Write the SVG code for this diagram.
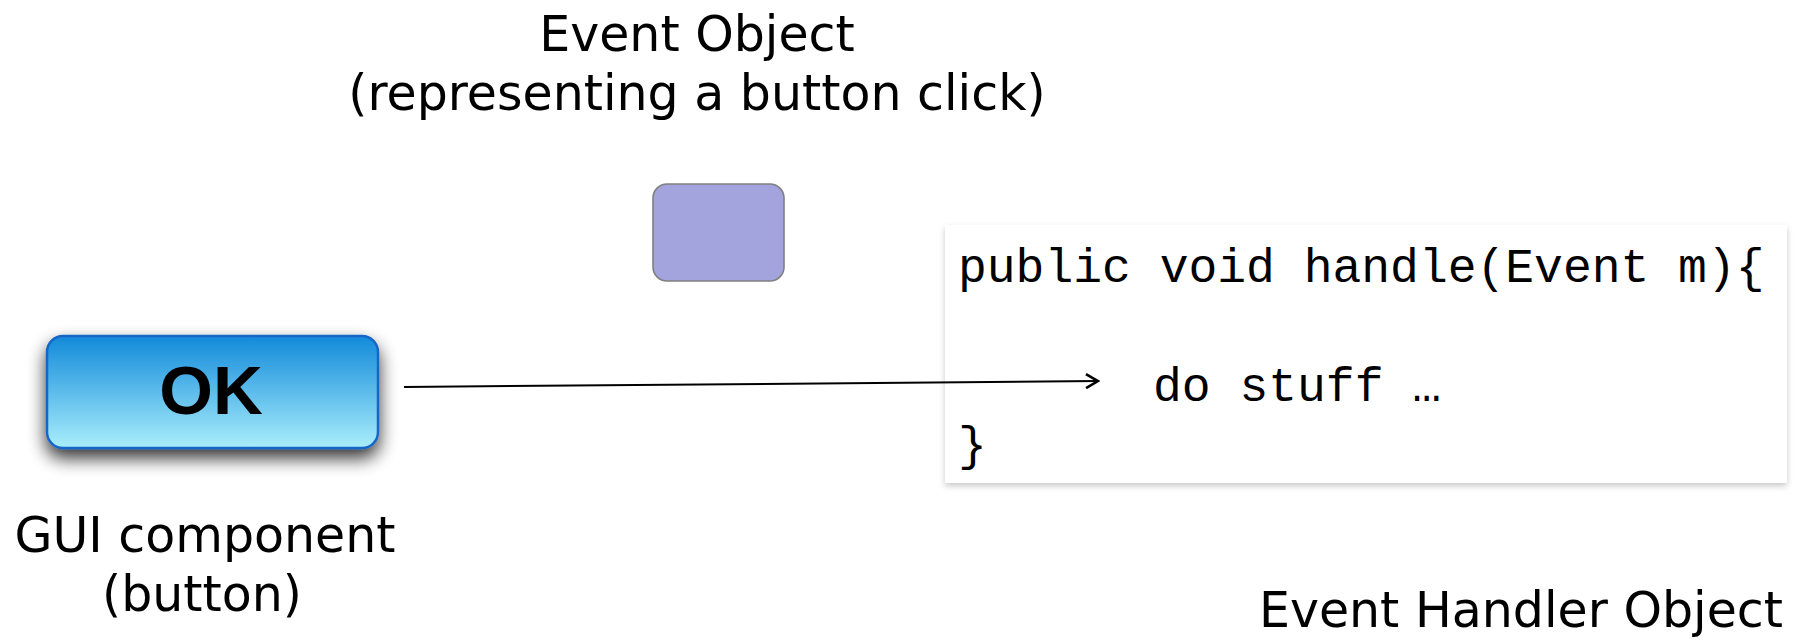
<svg xmlns="http://www.w3.org/2000/svg" width="1796" height="640" viewBox="0 0 1796 640">
  <style>
    .label { font-family: "DejaVu Sans", Verdana, sans-serif; font-size: 49px; fill: #000; }
    .code { font-family: "Liberation Mono", "Courier New", monospace; font-size: 48px; fill: #000; }
    .ok { font-family: "Liberation Sans", Arial, sans-serif; font-weight: bold; font-size: 69px; fill: #000; }
    .flow { stroke: #000; stroke-width: 2; fill: none; }
  </style>
  <defs>
    <linearGradient id="btnFill" x1="0" y1="0" x2="0" y2="1">
      <stop offset="0" stop-color="#128ad9"/>
      <stop offset="0.45" stop-color="#55b7ea"/>
      <stop offset="1" stop-color="#aaeefa"/>
    </linearGradient>
    <filter id="btnShadow" x="-20%" y="-30%" width="140%" height="180%">
      <feGaussianBlur in="SourceAlpha" stdDeviation="9"/>
      <feOffset dy="9" result="blur"/>
      <feComponentTransfer><feFuncA type="linear" slope="0.8"/></feComponentTransfer>
      <feMerge><feMergeNode/><feMergeNode in="SourceGraphic"/></feMerge>
    </filter>
    <filter id="boxShadow" x="-5%" y="-10%" width="110%" height="125%">
      <feGaussianBlur in="SourceAlpha" stdDeviation="3"/>
      <feOffset dy="3"/>
      <feComponentTransfer><feFuncA type="linear" slope="0.22"/></feComponentTransfer>
      <feMerge><feMergeNode/><feMergeNode in="SourceGraphic"/></feMerge>
    </filter>
    <marker id="openArrow" viewBox="0 0 16 16" refX="14" refY="8" markerWidth="16" markerHeight="16" markerUnits="userSpaceOnUse" orient="auto">
      <path d="M2,1 L14,8 L2,15" fill="none" stroke="#000" stroke-width="2.6"/>
    </marker>
  </defs>

  <!-- event object label and token -->
  <g id="event-object">
    <text class="label" x="697" y="51" text-anchor="middle">Event Object</text>
    <text class="label" x="697" y="110" text-anchor="middle">(representing a button click)</text>
    <rect x="653" y="184" width="131" height="97" rx="14" ry="14" fill="#a3a3de" stroke="#808080" stroke-width="1.6"/>
  </g>

  <!-- GUI button -->
  <g id="gui-component">
    <rect x="47" y="336" width="331" height="112" rx="16" ry="16" fill="url(#btnFill)" stroke="#1766c8" stroke-width="2.5" filter="url(#btnShadow)"/>
    <text class="ok" x="211" y="414" text-anchor="middle">OK</text>
    <text class="label" x="205" y="552" text-anchor="middle">GUI component</text>
    <text class="label" x="202" y="611" text-anchor="middle">(button)</text>
  </g>

  <!-- handler code -->
  <g id="event-handler">
    <rect x="945" y="225" width="842" height="258" fill="#fff" filter="url(#boxShadow)"/>
    <text class="code" x="958" y="282">public void handle(Event m){</text>
    <text class="code" x="1153" y="401">do stuff …</text>
    <text class="code" x="958" y="460">}</text>
    <text class="label" x="1783" y="627" text-anchor="end">Event Handler Object</text>
  </g>

  <!-- connectors -->
  <g id="connectors">
    <line class="flow" x1="404" y1="387" x2="1098" y2="381" marker-end="url(#openArrow)"/>
  </g>
</svg>
